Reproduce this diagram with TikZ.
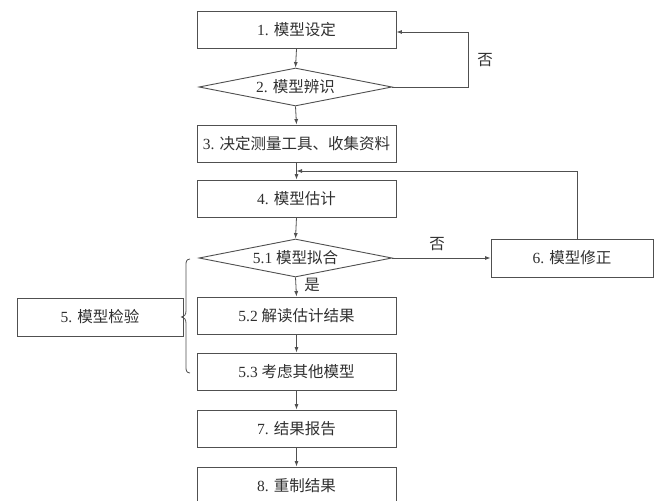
\documentclass[tikz,border=0pt]{standalone}
\usepackage{fontspec}
\setmainfont{Liberation Serif}
\newfontfamily\cjk{Noto Sans CJK SC}
\usetikzlibrary{shapes.geometric,arrows.meta,calc}
\newcommand{\zh}[1]{{\cjk #1}}
\definecolor{ln}{HTML}{505050}
\definecolor{tx}{HTML}{303030}
\tikzset{
  box/.style={draw=ln, line width=0.9pt, rectangle, minimum width=199pt, minimum height=37pt, inner sep=0pt, text=tx, font=\fontsize{15.5}{17}\selectfont},
  dia/.style={draw=ln, line width=0.9pt, diamond, aspect=5.08, minimum width=193pt, minimum height=38pt, inner sep=0pt, text=tx, font=\fontsize{15.5}{17}\selectfont},
  conn/.style={draw=ln, line width=0.8pt, -{Latex[length=5.5pt,width=4pt]}},
  lbl/.style={text=tx, font=\fontsize{15.5}{17}\selectfont, inner sep=0pt}
}
\begin{document}
\begin{tikzpicture}[x=1pt,y=-1pt]
\useasboundingbox (0,0) rectangle (668,500);
\clip (0,0) rectangle (668,500);
\fill[white] (0,0) rectangle (668,500);

\node[box] (b1) at (296.5,30) {1. \zh{模型设定}};
\node[dia] (d2) at (295.5,87) {2. \zh{模型辨识}};
\node[box] (b3) at (296.5,143.5) {3. \zh{决定测量工具、收集资料}};
\node[box] (b4) at (296.5,198.5) {4. \zh{模型估计}};
\node[dia] (d51) at (295.5,258) {5.1 \zh{模型拟合}};
\node[box] (b52) at (296.5,315.5) {5.2 \zh{解读估计结果}};
\node[box] (b53) at (296.5,371.5) {5.3 \zh{考虑其他模型}};
\node[box] (b7) at (296.5,428.5) {7. \zh{结果报告}};
\node[box] (b8) at (296.5,485.5) {8. \zh{重制结果}};
\node[box, minimum width=166pt, minimum height=38pt] (b5) at (100,317) {5. \zh{模型检验}};
\node[box, minimum width=162pt, minimum height=38pt] (b6) at (572,258) {6. \zh{模型修正}};

\draw[conn] (b1.south) -- (d2.north);
\draw[conn] (d2.south) -- (b3.north);
\draw[conn] (b3.south) -- (b4.north);
\draw[conn] (b4.south) -- (d51.north);
\draw[conn] (d51.south) -- (b52.north);
\draw[conn] (b52.south) -- (b53.north);
\draw[conn] (b53.south) -- (b7.north);
\draw[conn] (b7.south) -- (b8.north);

\coordinate (r1) at (468,87);
\coordinate (r2) at (468,32);
\draw[conn] (d2.east) -- (r1) -- (r2) -- (r2 -| b1.east);
\node[lbl] (no1) at (485,60) {\zh{否}};

\draw[conn] (d51.east) -- (b6.west);
\node[lbl] (no2) at (437,244) {\zh{否}};
\node[lbl] (yes) at (312,285) {\zh{是}};

\coordinate (f1) at ($(b6.north)+(5,0)$);
\coordinate (f2) at (f1 |- 0,171);
\coordinate (f3) at (b4.north |- 0,171);
\draw[conn] (f1) -- (f2) -- (f3);

% brace
\draw[ln, line width=0.8pt] (190,259) .. controls (186.5,259.5) and (186,261) .. (186,265)
  -- (186,311) .. controls (186,315) and (184,316.5) .. (181.5,317)
  .. controls (184,317.5) and (186,319) .. (186,323)
  -- (186,367) .. controls (186,371) and (186.5,372.5) .. (190,373);
\end{tikzpicture}
\end{document}
